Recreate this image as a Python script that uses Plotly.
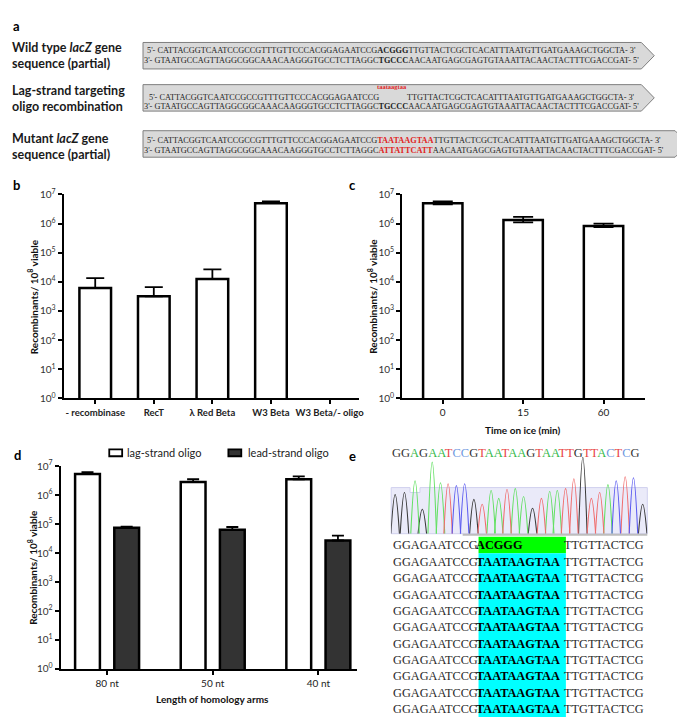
import plotly.graph_objects as go

W, H = 685, 717
def X(px): return px / W
def Y(py): return 1 - py / H

# ---------------- data ----------------
b_categories = ["- recombinase", "RecT", "λ Red Beta", "W3 Beta", "W3 Beta/- oligo"]
b_values = [6200, 3200, 12600, 5.0e6, None]
b_err_top = [13500, 6600, 27000, 5.8e6, None]

c_categories = ["0", "15", "60"]
c_values = [5.0e6, 1.33e6, 8.3e5]
c_err_top = [5.8e6, 1.7e6, 1.0e6]
c_err_bottom = [4.6e6, 1.1e6, 7.6e5]

d_categories = ["80 nt", "50 nt", "40 nt"]
d_lag = [5.3e6, 2.8e6, 3.5e6]
d_lag_err_top = [6.2e6, 3.5e6, 4.4e6]
d_lead = [7.4e4, 6.3e4, 2.7e4]
d_lead_err_top = [8.2e4, 7.9e4, 4.0e4]

trace_seq = "GGAGAATCCGTAATAAGTAATTGTTACTCG"
peak_pos = [1.0, 2.09, 3.33, 4.18, 5.34, 6.31, 7.2, 8.17, 9.14, 10.22, 11.19, 12.24, 13.13, 14.1, 15.07,
            16.04, 17.09, 18.13, 19.1, 19.99, 20.96, 21.93, 22.98, 23.98, 24.95, 25.92, 26.89, 27.94, 28.91, 29.99]
peak_height = [40, 42, 54, 25, 73, 52, 51, 49, 51, 35, 30, 44, 36, 45, 46,
               38, 26, 36, 43, 44, 46, 56, 78, 36, 42, 50, 54, 58, 57, 30]

align_left = "GGAGAATCCG"
align_mid = ["ACGGG"] + ["TAATAAGTAA"] * 10
align_right = "TTGTTACTCG"

wt_top_a, wt_top_mid, wt_top_b = "CATTACGGTCAATCCGCCGTTTGTTCCCACGGAGAATCCG", "ACGGG", "TTGTTACTCGCTCACATTTAATGTTGATGAAAGCTGGCTA"
wt_bot_a, wt_bot_mid, wt_bot_b = "GTAATGCCAGTTAGGCGGCAAACAAGGGTGCCTCTTAGGC", "TGCCC", "AACAATGAGCGAGTGTAAATTACAACTACTTTCGACCGAT"
oligo_insert = "taataagtaa"
mut_top_mid = "TAATAAGTAA"
mut_bot_mid = "ATTATTCATT"

# ---------------- styles ----------------
SANS = "Lato"
SERIF = "Liberation Serif"
peak_colors = {"G": "#3a3a3a", "A": "#62e062", "T": "#f06c6c", "C": "#5a5af0"}
text_colors = {"G": "#333333", "A": "#33b84a", "T": "#e84545", "C": "#7098e0"}

fig = go.Figure()

def up_err(vals, tops):
    return [None if v is None else t - v for v, t in zip(vals, tops)]

# panel b
fig.add_trace(go.Bar(x=b_categories, y=b_values, xaxis="x", yaxis="y", width=0.54,
                     marker=dict(color="white", line=dict(color="black", width=2.5)),
                     error_y=dict(type="data", symmetric=False, array=up_err(b_values, b_err_top),
                                  arrayminus=[0] * 5, color="black", thickness=1.8, width=9),
                     showlegend=False))
# panel c
fig.add_trace(go.Bar(x=c_categories, y=c_values, xaxis="x2", yaxis="y2", width=0.49,
                     marker=dict(color="white", line=dict(color="black", width=2.5)),
                     error_y=dict(type="data", symmetric=False, array=up_err(c_values, c_err_top),
                                  arrayminus=[v - b for v, b in zip(c_values, c_err_bottom)],
                                  color="black", thickness=1.8, width=10),
                     showlegend=False))
# panel d
fig.add_trace(go.Bar(x=d_categories, y=d_lag, xaxis="x3", yaxis="y3", name="lag-strand oligo",
                     marker=dict(color="white", line=dict(color="black", width=2.5)),
                     error_y=dict(type="data", symmetric=False, array=up_err(d_lag, d_lag_err_top),
                                  arrayminus=[0] * 3, color="black", thickness=1.8, width=6),
                     showlegend=False))
fig.add_trace(go.Bar(x=d_categories, y=d_lead, xaxis="x3", yaxis="y3", name="lead-strand oligo",
                     marker=dict(color="#333333", line=dict(color="black", width=2.5)),
                     error_y=dict(type="data", symmetric=False, array=up_err(d_lead, d_lead_err_top),
                                  arrayminus=[0] * 3, color="black", thickness=1.8, width=6),
                     showlegend=False))

# chromatogram peaks
hw = 0.5
for base, col in peak_colors.items():
    xs, ys = [], []
    for b, p, h in zip(trace_seq, peak_pos, peak_height):
        if b == base:
            xs += [p - hw, p, p + hw, None]
            ys += [0, h, 0, None]
    fig.add_trace(go.Scatter(x=xs, y=ys, xaxis="x4", yaxis="y4", mode="lines",
                             line=dict(color=col, width=1.1, shape="spline", smoothing=1.2),
                             showlegend=False, hoverinfo="skip"))

# ---------------- axes ----------------
def logy(domain):
    return dict(domain=domain, type="log", range=[0, 7],
                tickvals=[10 ** i for i in range(8)],
                ticktext=["10<sup>%d</sup>" % i for i in range(8)],
                ticks="outside", ticklen=4, tickwidth=1.5, tickcolor="black",
                showline=True, linewidth=2, linecolor="black", showgrid=False, zeroline=False,
                tickfont=dict(family=SANS, size=10, color="#333333"), fixedrange=True)

def catx(domain, rng, anchor, bold=False, labels=None, size=10):
    d = dict(domain=domain, range=rng, anchor=anchor, type="category",
             ticks="outside", ticklen=4, tickwidth=1.5, tickcolor="black",
             showline=True, linewidth=2, linecolor="black", showgrid=False, zeroline=False,
             tickfont=dict(family=SANS, size=size, color="#222222"))
    if labels is not None:
        d["tickvals"] = labels
        d["ticktext"] = ["<b>%s</b>" % l for l in labels] if bold else labels
    return d

fig.update_layout(
    width=W, height=H, margin=dict(l=0, r=0, t=0, b=0),
    paper_bgcolor="white", plot_bgcolor="rgba(0,0,0,0)",
    barmode="group", bargap=0.258, bargroupgap=0.367,
    xaxis=catx([X(56), X(354)], [-0.54, 4.51], "y", bold=True, labels=b_categories, size=9.5),
    yaxis=logy([Y(390), Y(182)]) | dict(anchor="x"),
    xaxis2=catx([X(397), X(642)], [-0.506, 2.52], "y2", labels=c_categories),
    yaxis2=logy([Y(390), Y(182)]) | dict(anchor="x2"),
    xaxis3=catx([X(53), X(352)], [-0.44, 2.37], "y3", labels=d_categories),
    yaxis3=logy([Y(666), Y(459)]) | dict(anchor="x3"),
    xaxis4=dict(domain=[X(386), X(644)], range=[0.535, 30.53], visible=False, anchor="y4"),
    yaxis4=dict(domain=[Y(528), Y(448)], range=[0, 80], visible=False, anchor="x4"),
)

# ---------------- shapes ----------------
shapes = []
def path(pts):
    return "M " + " L ".join(f"{X(a):.5f},{Y(b):.5f}" for a, b in pts) + " Z"

for top, bot, base_x, tip_x in [(27, 54, 638, 651), (70, 97, 638, 651), (117, 144, 672, 685)]:
    shapes.append(dict(type="path", xref="paper", yref="paper", layer="below",
                       path=path([(136, top), (base_x, top), (tip_x, (top + bot) / 2), (base_x, bot), (136, bot)]),
                       fillcolor="#d9d9d9", line=dict(color="#7f7f7f", width=1)))

# chromatogram background
shapes.append(dict(type="path", xref="paper", yref="paper", layer="below",
                   path=path([(386, 481), (405, 481), (405, 486), (415, 486), (415, 481), (644, 481), (644, 528), (386, 528)]),
                   fillcolor="#eaeaf9", line=dict(color="#d0d0ee", width=1)))
shapes.append(dict(type="line", xref="paper", yref="paper", x0=X(458), x1=X(644), y0=Y(529), y1=Y(529),
                   line=dict(color="#bdbdbd", width=2)))

# alignment highlights
shapes.append(dict(type="rect", xref="paper", yref="paper", layer="below",
                   x0=X(474), x1=X(562), y0=Y(548), y1=Y(531), fillcolor="#00ff00", line=dict(width=0)))
shapes.append(dict(type="rect", xref="paper", yref="paper", layer="below",
                   x0=X(474), x1=X(562), y0=Y(715), y1=Y(548), fillcolor="#00ffff", line=dict(width=0)))

# legend markers panel d
shapes.append(dict(type="rect", xref="paper", yref="paper", x0=X(102), x1=X(115), y0=Y(449), y1=Y(442),
                   fillcolor="white", line=dict(color="black", width=1.8)))
shapes.append(dict(type="rect", xref="paper", yref="paper", x0=X(222), x1=X(235), y0=Y(449), y1=Y(442),
                   fillcolor="#333333", line=dict(color="black", width=1.8)))

# ---------------- annotations ----------------
ann = []
def A(text, x, y, size, family=SANS, color="#111111", xanchor="left", yanchor="middle", angle=0):
    ann.append(dict(text=text, x=X(x), y=Y(y), xref="paper", yref="paper", showarrow=False,
                    xanchor=xanchor, yanchor=yanchor, textangle=angle, align="left",
                    font=dict(family=family, size=size, color=color), borderpad=0))

for lab, x, y in [("a", 4, 10), ("b", 4, 172), ("c", 343, 172), ("d", 5, 448), ("e", 342, 449)]:
    A("<b>%s</b>" % lab, x, y, 13, color="black")

A("<b>Wild type <i>lacZ</i> gene<br>sequence (partial)</b>", 3, 40, 12.5, color="#1a1a1a")
A("<b>Lag-strand targeting<br>oligo recombination</b>", 3, 84, 12.5, color="#1a1a1a")
A("<b>Mutant <i>lacZ</i> gene<br>sequence (partial)</b>", 3, 133, 12.5, color="#1a1a1a")

SQ = 8.25
RED = "#e02424"
SC = "#1e1e1e"
A("5'- %s<b>%s</b>%s- 3'" % (wt_top_a, wt_top_mid, wt_top_b), 139, 35, SQ, family=SERIF, color=SC)
A("3'- %s<b>%s</b>%s- 5'" % (wt_bot_a, wt_bot_mid, wt_bot_b), 136, 45, SQ, family=SERIF, color=SC)
A("5'- %s" % wt_top_a, 141, 83, SQ, family=SERIF, color=SC)
A("%s- 3'" % wt_top_b, 401, 83, SQ, family=SERIF, color=SC)
A("<b>%s</b>" % oligo_insert, 387, 72, 6.5, family=SERIF, color=RED, xanchor="center")
A("3'- %s<b>%s</b>%s- 5'" % (wt_bot_a, wt_bot_mid, wt_bot_b), 136, 92, SQ, family=SERIF, color=SC)
A("5'- %s<b><span style='color:%s'>%s</span></b>%s- 3'" % (wt_top_a, RED, mut_top_mid, wt_top_b), 139, 127, SQ, family=SERIF, color=SC)
A("3'- %s<b><span style='color:%s'>%s</span></b>%s- 5'" % (wt_bot_a, RED, mut_bot_mid, wt_bot_b), 136, 137, SQ, family=SERIF, color=SC)

# axis titles
ytitle = "<b>Recombinants/ 10<sup>8</sup> viable</b>"
A(ytitle, 25, 286, 10, xanchor="center", angle=-90)
A(ytitle, 367, 286, 10, xanchor="center", angle=-90)
A(ytitle, 24, 562, 10, xanchor="center", angle=-90)
A("<b>Time on ice (min)</b>", 519, 422, 10, xanchor="center")
A("<b>Length of homology arms</b>", 206, 697, 10, xanchor="center")

# legend text
A("lag-strand oligo", 119, 445, 11, color="#222222")
A("lead-strand oligo", 241, 445, 11, color="#222222")

# sequence header in e
colored = "".join("<span style='color:%s'>%s</span>" % (text_colors[c], c) for c in trace_seq)
A(colored, 386, 446, 12.5, family=SERIF)

# alignment rows
for i, mid in enumerate(align_mid):
    y = 540 + i * 16.7
    A(align_left, 474.5, y, 12.3, family=SERIF, color="#2a2a2a", xanchor="right")
    A("<b>%s</b>" % mid, 470.5, y, 12.3, family=SERIF, color="black")
    A(align_right, 559.5, y, 12.3, family=SERIF, color="#2a2a2a")

fig.update_layout(shapes=shapes, annotations=ann)
fig.write_html("out.html")
